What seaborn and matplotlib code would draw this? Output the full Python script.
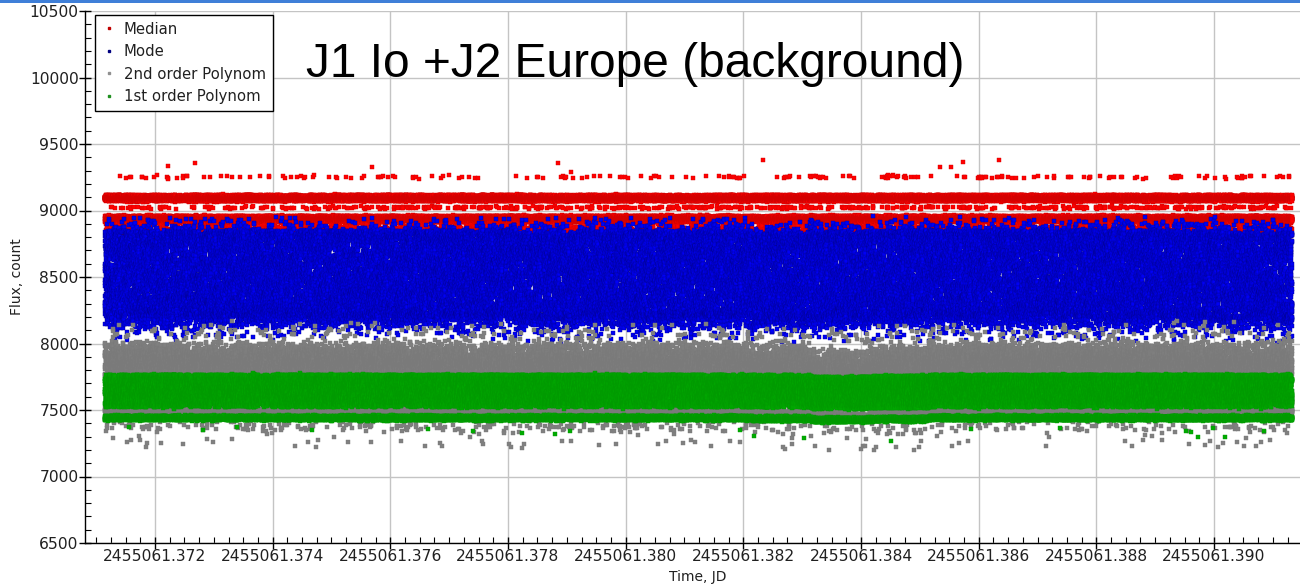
import numpy as np
import pandas as pd
import seaborn as sns
import matplotlib
matplotlib.use("Agg")
import matplotlib.pyplot as plt
from matplotlib.ticker import MultipleLocator, FormatStrFormatter
from matplotlib.lines import Line2D
from matplotlib.patches import Rectangle

# ---------------------------------------------------------------------------
# Observation window (Julian Date) and number of frames
t_first = 2455061.37115
t_last = 2455061.39133
n_frames = 40000
bin_width = 0.001  # JD, width of the drift bins below

methods = ["Median", "Mode", "2nd order Polynom", "1st order Polynom"]

# Background flux bands for each estimator:
# band centre, half-width, share of frames, band shape ("tri" / "flat")
median_level = [9093, 8937, 9022, 9252, 8850, 9330]
median_spread = [28, 28, 12, 14, 70, 70]
median_share = [0.44, 0.42, 0.015, 0.005, 0.08, 0.0003]
median_shape = ["tri", "tri", "tri", "tri", "tri", "tri"]

mode_level = [8525, 8185, 8860, 8080]
mode_spread = [325, 85, 100, 70]
mode_share = [0.86, 0.09, 0.035, 0.01]
mode_shape = ["flat", "tri", "tri", "tri"]

poly2_level = [7850, 8060, 7490, 7380, 7260, 7640]
poly2_spread = [170, 120, 28, 60, 60, 150]
poly2_share = [0.48, 0.01, 0.24, 0.010, 0.002, 0.18]
poly2_shape = ["tri", "tri", "tri", "tri", "tri", "tri"]

poly1_level = [7645, 7645, 7440, 7330]
poly1_spread = [122, 140, 22, 60]
poly1_share = [0.64, 0.08, 0.27, 0.0005]
poly1_shape = ["flat", "tri", "tri", "tri"]

# Slow drift of each band, one value per 0.001 JD bin
median_drift = [0] * 21
mode_drift = [0, 0, 0, 0, 0, 0, 0, -15, 0, 0, 0, -20, -10, 0, 0, 0, 0, 0, 0, -15, -15]
poly2_drift = [0, 0, 0, 0, 0, 0, -10, -10, 0, 0, 0, -20, -45, -25, 0, 0, 0, 0, 0, 0, 0]
poly1_drift = [0, 0, 0, 0, 0, 0, 0, 0, 0, 0, 0, -5, -15, -10, 0, 0, 0, 0, 0, 0, 0]

colors = {"Median": "#ff0000", "Mode": "#0000f5",
          "2nd order Polynom": "#808080", "1st order Polynom": "#00aa00"}
edges = {"Median": "#d40000", "Mode": "#00009a",
         "2nd order Polynom": "#7a7a7a", "1st order Polynom": "#009a00"}
legend_colors = {"Median": "#c00000", "Mode": "#000080",
                 "2nd order Polynom": "#909090", "1st order Polynom": "#209020"}

# ---------------------------------------------------------------------------
frame = np.arange(n_frames, dtype=np.float64)
time = np.linspace(t_first, t_last, n_frames)
bin_idx = np.minimum(((time - t_first) / bin_width).astype(int), 20)


def qweyl(i, a, b):
    """Quadratic Weyl sequence in [0, 1)."""
    return (a * i * i + b * i) % 1.0


def band_flux(levels, spreads, shares, shapes, drift, k):
    pick = qweyl(frame + 1, np.sqrt(2) + k, np.sqrt(3) * (k + 1))
    cum = np.cumsum(shares) / np.sum(shares)
    comp = np.minimum(np.searchsorted(cum, pick, side="right"), len(levels) - 1)
    u = qweyl(frame + 1, np.sqrt(5) + 2 * k + 1, np.sqrt(7) * (k + 2))
    lev = np.asarray(levels, float)[comp]
    spr = np.asarray(spreads, float)[comp]
    flat = np.array([s == "flat" for s in shapes])[comp]
    tri = np.where(u < 0.5, -1 + np.sqrt(2 * u), 1 - np.sqrt(2 * (1 - u)))
    jitter = np.where(flat, spr * (2 * u - 1), spr * tri)
    return lev + jitter + np.asarray(drift, float)[bin_idx]


tables = [
    (median_level, median_spread, median_share, median_shape, median_drift),
    (mode_level, mode_spread, mode_share, mode_shape, mode_drift),
    (poly2_level, poly2_spread, poly2_share, poly2_shape, poly2_drift),
    (poly1_level, poly1_spread, poly1_share, poly1_shape, poly1_drift),
]

frames = []
for k, (name, tab) in enumerate(zip(methods, tables)):
    frames.append(pd.DataFrame({"time": time,
                                "flux": band_flux(*tab, k),
                                "method": name}))
df = pd.concat(frames, ignore_index=True)

# ---------------------------------------------------------------------------
sns.set_theme(style="ticks")
plt.rcParams["font.family"] = ["DejaVu Sans"]

fig = plt.figure(figsize=(13.0, 5.87), dpi=100)
ax = fig.add_axes([85 / 1300, 44 / 587, 1225 / 1300, 532 / 587])

for name in methods:
    sub = df[df["method"] == name]
    sns.scatterplot(data=sub, x="time", y="flux", color=colors[name],
                    edgecolor=edges[name], linewidth=0.3, marker="s", s=7,
                    legend=False, ax=ax, rasterized=True, zorder=3)

ax.set_xlim(2455061.370811, 2455061.391631)
ax.set_ylim(6500, 10500)

ax.xaxis.set_major_locator(MultipleLocator(0.002))
ax.xaxis.set_minor_locator(MultipleLocator(0.00025))
ax.xaxis.set_major_formatter(FormatStrFormatter("%.3f"))
ax.yaxis.set_major_locator(MultipleLocator(500))
ax.yaxis.set_minor_locator(MultipleLocator(100))

ax.grid(True, which="major", color="#c4c4c4", linewidth=1.0, zorder=0)
ax.set_axisbelow(True)
ax.tick_params(which="major", direction="inout", length=8, width=1,
               color="black", labelsize=11.2, labelcolor="#202020", pad=0.5)
ax.tick_params(which="minor", direction="in", length=4, width=0.8, color="black")
for side in ("top", "right"):
    ax.spines[side].set_visible(False)
for side in ("left", "bottom"):
    ax.spines[side].set_color("black")
    ax.spines[side].set_linewidth(1.0)

ax.set_xlabel("Time, JD", fontsize=10, color="#202020", labelpad=4)
ax.set_ylabel("Flux, count", fontsize=10, color="#202020", labelpad=4)

fig.text(635 / 1300, 1 - 77 / 587, "J1 Io +J2 Europe (background)",
         ha="center", va="baseline", fontsize=34.5,
         family="Liberation Sans", color="black")

handles = [Line2D([], [], linestyle="none", marker="s", markersize=1.6,
                  markerfacecolor=legend_colors[m], markeredgecolor=legend_colors[m])
           for m in methods]
leg = fig.legend(handles, methods, loc="upper left",
                 bbox_to_anchor=(95 / 1300, 1 - 15 / 587),
                 fontsize=10.7, frameon=True, fancybox=False, framealpha=1,
                 edgecolor="black", borderpad=0.45, labelspacing=0.5,
                 handlelength=1.0, handletextpad=0.5, borderaxespad=0)
leg.get_frame().set_linewidth(1.0)
for txt in leg.get_texts():
    txt.set_color("#202020")

# window strip along the top edge
fig.add_artist(Rectangle((0, 1 - 3 / 587), 1, 3 / 587, transform=fig.transFigure,
                         facecolor="#3f7fd8", edgecolor="none"))

fig.savefig("out.png", dpi=100)
